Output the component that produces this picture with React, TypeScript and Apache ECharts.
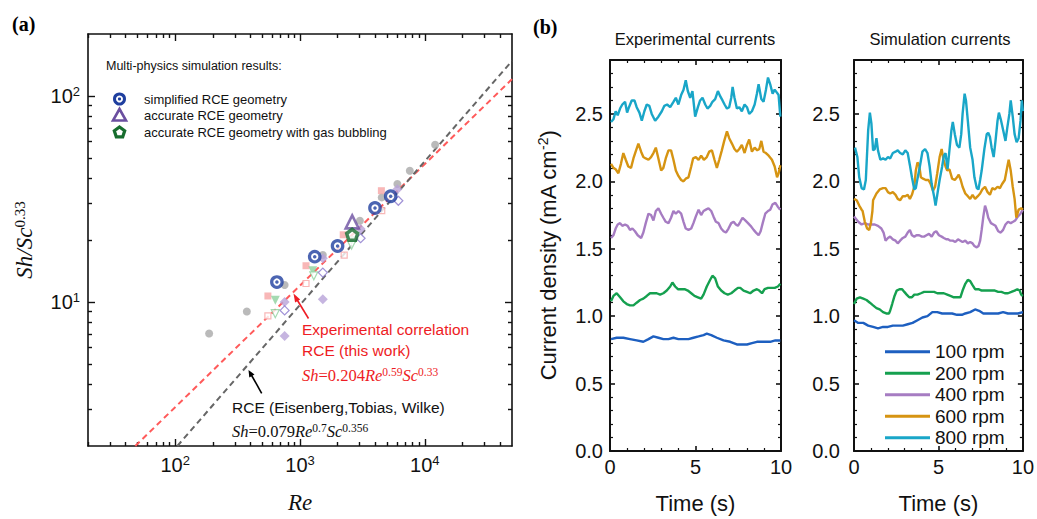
import React, { useEffect, useRef } from 'react';
import * as echarts from 'echarts';

const SANS = 'Liberation Sans';
const SERIF = 'Liberation Serif';

// ---------- Panel (a) data ----------
const reMajorTicks = [100, 1000, 10000];
const reMinorTicks = [20, 30, 40, 50, 60, 70, 80, 90, 200, 300, 400, 500, 600, 700, 800, 900, 2000, 3000, 4000, 5000, 6000, 7000, 8000, 9000, 20000, 30000, 40000];
const shMajorTicks = [10, 100];
const shMinorTicks = [3, 4, 5, 6, 7, 8, 9, 20, 30, 40, 50, 60, 70, 80, 90];

const simplifiedRCE = [[653, 12.5], [1312, 16.6], [2000, 18.7], [3990, 28.6], [5330, 32.6]];
const accurateRCE = [[2620, 24.5]];
const gasBubbling = [[2620, 21.2]];
const grayPts = [[187, 7.03], [375, 9.0], [753, 12.1], [1524, 16.9], [3020, 24.8], [4520, 32.2], [6030, 37.4], [7590, 43.4], [12100, 58]];
const pinkFilled = [[553, 10.7], [1117, 15.0], [2220, 21.2], [4490, 34.7]];
const pinkOpen = [[553, 8.56], [1117, 12.3], [2260, 16.9], [4520, 27.8]];
const greenFilled = [[634, 10.2], [1265, 14.2], [2590, 19.9]];
const greenOpen = [[634, 8.78], [1290, 13.4], [2590, 18.9]];
const purpleFilled = [[753, 10.0], [1524, 10.3], [753, 6.84], [1524, 16.3], [3060, 22.6], [6030, 35.3]];
const purpleOpen = [[753, 9.1], [1524, 13.9], [3060, 20.4], [6140, 31.0]];
const expCorrelationLine = [[47.9, 2], [50000, 120.8]];
const eisenbergLine = [[104, 2], [50000, 148]];

// ---------- Panel (b) data ----------
const rpmNames = ['100 rpm', '200 rpm', '400 rpm', '600 rpm', '800 rpm'];
const rpmColors = ['#1d5fc0', '#15a04f', '#a67cc2', '#d69412', '#19a6c8'];

const exp100 = [[0.06,0.83],[0.39,0.84],[0.78,0.84],[1.17,0.83],[1.56,0.82],[1.95,0.81],[2.25,0.83],[2.54,0.85],[2.83,0.84],[3.12,0.83],[3.42,0.83],[3.71,0.84],[4.0,0.83],[4.3,0.83],[4.59,0.83],[4.88,0.84],[5.18,0.85],[5.47,0.86],[5.66,0.87],[5.92,0.86],[6.25,0.84],[6.64,0.82],[7.03,0.81],[7.42,0.79],[7.71,0.79],[8.01,0.79],[8.3,0.8],[8.59,0.81],[8.98,0.81],[9.37,0.81],[9.67,0.82],[9.96,0.82]];
const exp200 = [[0.06,1.11],[0.2,1.15],[0.39,1.17],[0.59,1.14],[0.78,1.11],[0.98,1.09],[1.17,1.08],[1.37,1.08],[1.56,1.1],[1.76,1.12],[1.95,1.13],[2.15,1.15],[2.34,1.17],[2.54,1.17],[2.73,1.17],[2.93,1.16],[3.12,1.17],[3.32,1.19],[3.52,1.22],[3.65,1.25],[3.81,1.22],[3.97,1.2],[4.16,1.2],[4.36,1.2],[4.55,1.19],[4.75,1.17],[4.94,1.15],[5.14,1.14],[5.33,1.13],[5.47,1.16],[5.66,1.22],[5.86,1.27],[5.99,1.3],[6.15,1.28],[6.31,1.22],[6.5,1.19],[6.7,1.17],[6.89,1.16],[7.09,1.17],[7.28,1.19],[7.48,1.21],[7.62,1.21],[7.81,1.19],[8.01,1.18],[8.2,1.17],[8.4,1.19],[8.59,1.2],[8.73,1.19],[8.89,1.17],[9.04,1.2],[9.24,1.21],[9.43,1.21],[9.63,1.21],[9.82,1.22],[9.96,1.24]];
const exp400 = [[0.06,1.58],[0.2,1.6],[0.33,1.65],[0.45,1.68],[0.59,1.69],[0.72,1.67],[0.88,1.68],[1.03,1.67],[1.17,1.64],[1.31,1.65],[1.46,1.63],[1.62,1.6],[1.82,1.58],[1.95,1.62],[2.09,1.69],[2.25,1.76],[2.4,1.75],[2.54,1.71],[2.68,1.78],[2.83,1.8],[2.99,1.76],[3.12,1.73],[3.26,1.7],[3.42,1.69],[3.57,1.73],[3.71,1.78],[3.85,1.76],[4.0,1.78],[4.16,1.76],[4.3,1.7],[4.43,1.65],[4.59,1.64],[4.75,1.65],[4.88,1.69],[5.02,1.74],[5.18,1.79],[5.33,1.75],[5.47,1.78],[5.61,1.79],[5.76,1.8],[5.92,1.78],[6.05,1.74],[6.19,1.7],[6.35,1.69],[6.5,1.65],[6.64,1.63],[6.78,1.62],[6.93,1.65],[7.09,1.69],[7.23,1.7],[7.36,1.68],[7.48,1.67],[7.62,1.7],[7.75,1.73],[7.91,1.71],[8.07,1.69],[8.22,1.67],[8.4,1.64],[8.54,1.62],[8.69,1.6],[8.81,1.63],[8.93,1.69],[9.08,1.76],[9.24,1.78],[9.37,1.79],[9.51,1.83],[9.67,1.84],[9.82,1.81],[9.96,1.79]];
const exp600 = [[0.06,2.13],[0.2,2.1],[0.33,2.09],[0.49,2.06],[0.64,2.13],[0.78,2.21],[0.92,2.16],[1.07,2.11],[1.23,2.1],[1.37,2.17],[1.5,2.22],[1.66,2.28],[1.82,2.22],[1.95,2.18],[2.09,2.17],[2.25,2.16],[2.4,2.18],[2.54,2.21],[2.68,2.25],[2.83,2.17],[2.99,2.08],[3.12,2.1],[3.26,2.17],[3.42,2.23],[3.57,2.23],[3.71,2.16],[3.85,2.08],[4.0,2.04],[4.16,2.01],[4.3,2.0],[4.43,2.02],[4.59,2.03],[4.75,2.11],[4.86,2.17],[5.02,2.18],[5.18,2.16],[5.33,2.19],[5.49,2.16],[5.66,2.18],[5.8,2.22],[5.96,2.23],[6.11,2.16],[6.25,2.1],[6.39,2.16],[6.54,2.23],[6.68,2.3],[6.84,2.37],[6.97,2.32],[7.13,2.28],[7.28,2.24],[7.42,2.22],[7.56,2.24],[7.71,2.27],[7.87,2.21],[8.01,2.27],[8.14,2.31],[8.3,2.22],[8.46,2.25],[8.61,2.23],[8.73,2.24],[8.85,2.3],[8.98,2.22],[9.12,2.21],[9.28,2.19],[9.47,2.16],[9.63,2.11],[9.77,2.03],[9.86,2.06],[9.96,2.12]];
const exp800 = [[0.06,2.44],[0.2,2.46],[0.33,2.52],[0.45,2.49],[0.59,2.54],[0.72,2.57],[0.88,2.59],[1.0,2.51],[1.11,2.55],[1.27,2.6],[1.43,2.6],[1.56,2.55],[1.72,2.51],[1.86,2.45],[2.01,2.52],[2.15,2.57],[2.3,2.56],[2.44,2.5],[2.64,2.45],[2.83,2.48],[3.03,2.52],[3.18,2.56],[3.34,2.57],[3.52,2.55],[3.71,2.59],[3.85,2.62],[4.0,2.57],[4.16,2.64],[4.3,2.68],[4.43,2.75],[4.55,2.67],[4.69,2.62],[4.82,2.67],[4.98,2.48],[5.14,2.55],[5.27,2.6],[5.41,2.62],[5.57,2.57],[5.7,2.54],[5.86,2.56],[5.99,2.59],[6.15,2.61],[6.31,2.67],[6.45,2.63],[6.58,2.6],[6.7,2.57],[6.84,2.54],[6.97,2.55],[7.09,2.62],[7.17,2.7],[7.28,2.62],[7.42,2.54],[7.56,2.55],[7.71,2.52],[7.87,2.57],[8.01,2.55],[8.14,2.5],[8.3,2.52],[8.46,2.57],[8.59,2.65],[8.69,2.72],[8.85,2.61],[8.98,2.59],[9.12,2.68],[9.24,2.77],[9.37,2.72],[9.51,2.65],[9.63,2.68],[9.75,2.66],[9.86,2.64],[9.96,2.48]];

const sim100 = [[0.0,0.97],[0.25,0.95],[0.55,0.95],[0.84,0.93],[1.13,0.92],[1.42,0.91],[1.72,0.92],[2.01,0.92],[2.3,0.93],[2.59,0.93],[2.89,0.93],[3.18,0.94],[3.47,0.95],[3.76,0.97],[4.05,0.99],[4.35,1.0],[4.64,1.03],[4.93,1.03],[5.22,1.02],[5.52,1.02],[5.81,1.02],[6.1,1.01],[6.39,1.01],[6.59,1.02],[6.88,1.03],[7.17,1.05],[7.41,1.04],[7.66,1.02],[7.95,1.02],[8.25,1.02],[8.54,1.02],[8.83,1.03],[9.12,1.02],[9.42,1.02],[9.71,1.02],[10.0,1.03]];
const sim200 = [[0.0,1.09],[0.16,1.13],[0.35,1.14],[0.55,1.13],[0.74,1.12],[0.94,1.1],[1.13,1.08],[1.33,1.06],[1.52,1.05],[1.72,1.03],[1.91,1.02],[2.07,1.02],[2.14,1.04],[2.26,1.09],[2.4,1.15],[2.53,1.19],[2.69,1.2],[2.85,1.2],[2.98,1.18],[3.12,1.16],[3.27,1.14],[3.43,1.14],[3.57,1.16],[3.76,1.16],[3.96,1.17],[4.15,1.18],[4.35,1.18],[4.54,1.18],[4.74,1.18],[4.93,1.17],[5.13,1.17],[5.32,1.17],[5.52,1.16],[5.71,1.15],[5.91,1.14],[6.1,1.14],[6.3,1.14],[6.43,1.19],[6.59,1.24],[6.74,1.27],[6.88,1.26],[7.02,1.23],[7.17,1.2],[7.37,1.2],[7.56,1.19],[7.76,1.19],[7.95,1.19],[8.15,1.19],[8.34,1.19],[8.54,1.18],[8.73,1.18],[8.93,1.17],[9.12,1.17],[9.32,1.18],[9.51,1.19],[9.67,1.2],[9.81,1.19],[9.9,1.16],[10.0,1.15]];
const sim400 = [[0.0,1.74],[0.25,1.7],[0.45,1.68],[0.64,1.69],[0.84,1.68],[1.03,1.68],[1.23,1.68],[1.42,1.67],[1.62,1.65],[1.75,1.62],[1.87,1.56],[2.01,1.58],[2.14,1.59],[2.3,1.57],[2.46,1.56],[2.59,1.54],[2.73,1.56],[2.89,1.58],[3.04,1.59],[3.18,1.62],[3.31,1.64],[3.43,1.6],[3.57,1.59],[3.7,1.6],[3.86,1.6],[4.02,1.59],[4.15,1.59],[4.29,1.6],[4.44,1.61],[4.6,1.59],[4.74,1.62],[4.87,1.63],[5.03,1.6],[5.19,1.59],[5.32,1.58],[5.46,1.57],[5.57,1.57],[5.71,1.56],[5.85,1.56],[6.0,1.55],[6.16,1.57],[6.3,1.56],[6.43,1.55],[6.59,1.56],[6.74,1.54],[6.88,1.55],[7.02,1.54],[7.13,1.52],[7.27,1.51],[7.37,1.52],[7.47,1.56],[7.56,1.64],[7.66,1.74],[7.76,1.82],[7.86,1.78],[7.95,1.73],[8.11,1.69],[8.25,1.68],[8.38,1.67],[8.54,1.63],[8.69,1.62],[8.83,1.64],[8.97,1.68],[9.12,1.7],[9.28,1.69],[9.42,1.7],[9.55,1.71],[9.71,1.74],[9.86,1.76],[10.0,1.79]];
const sim600 = [[0.0,1.87],[0.16,1.86],[0.31,1.82],[0.45,1.79],[0.51,1.78],[0.64,1.7],[0.78,1.65],[0.9,1.64],[1.0,1.69],[1.09,1.78],[1.13,1.86],[1.33,1.91],[1.52,1.94],[1.72,1.95],[1.87,1.95],[2.01,1.92],[2.14,1.91],[2.3,1.92],[2.46,1.9],[2.59,1.87],[2.73,1.86],[2.89,1.89],[3.04,1.89],[3.18,1.9],[3.31,1.87],[3.43,1.9],[3.57,1.96],[3.66,2.08],[3.76,2.14],[3.86,2.12],[3.96,2.03],[4.09,2.02],[4.25,2.01],[4.41,2.01],[4.54,1.98],[4.68,1.93],[4.8,1.96],[4.93,2.06],[5.07,2.18],[5.19,2.24],[5.3,2.16],[5.42,2.11],[5.52,2.08],[5.65,2.09],[5.81,2.02],[5.97,2.01],[6.1,2.03],[6.2,2.05],[6.32,2.01],[6.43,1.96],[6.59,1.91],[6.74,1.89],[6.88,1.87],[7.02,1.9],[7.17,1.87],[7.33,1.89],[7.47,1.91],[7.6,1.94],[7.76,1.96],[7.91,1.92],[8.05,1.9],[8.19,1.95],[8.34,1.94],[8.5,1.96],[8.64,1.95],[8.77,1.98],[8.93,2.01],[9.08,2.11],[9.16,2.16],[9.28,2.08],[9.4,1.96],[9.51,1.87],[9.61,1.73],[9.75,1.79],[9.9,1.8],[10.0,1.79]];
const sim800 = [[0.06,2.25],[0.2,2.18],[0.31,2.03],[0.45,1.95],[0.59,1.94],[0.7,2.01],[0.84,2.38],[0.94,2.51],[1.03,2.43],[1.13,2.23],[1.23,2.24],[1.33,2.32],[1.42,2.23],[1.56,2.16],[1.72,2.17],[1.87,2.16],[2.01,2.18],[2.14,2.17],[2.3,2.21],[2.46,2.22],[2.59,2.23],[2.73,2.21],[2.89,2.2],[3.04,2.23],[3.18,2.21],[3.31,2.12],[3.43,2.03],[3.57,1.94],[3.66,1.95],[3.76,2.02],[3.9,2.11],[4.05,2.22],[4.21,2.24],[4.35,2.21],[4.48,2.11],[4.6,1.98],[4.74,1.89],[4.83,1.82],[4.93,1.9],[5.07,2.01],[5.22,2.11],[5.32,2.19],[5.42,2.21],[5.54,2.09],[5.65,2.23],[5.77,2.38],[5.85,2.44],[5.97,2.35],[6.1,2.27],[6.24,2.25],[6.35,2.35],[6.43,2.5],[6.55,2.65],[6.63,2.6],[6.74,2.45],[6.88,2.25],[7.02,2.16],[7.13,2.03],[7.27,1.95],[7.37,1.94],[7.47,2.01],[7.56,2.08],[7.72,2.24],[7.86,2.35],[7.95,2.36],[8.05,2.33],[8.15,2.25],[8.27,2.18],[8.38,2.3],[8.5,2.45],[8.58,2.51],[8.69,2.46],[8.83,2.38],[8.97,2.3],[9.08,2.4],[9.2,2.5],[9.28,2.6],[9.4,2.48],[9.51,2.35],[9.63,2.29],[9.75,2.32],[9.86,2.45],[9.94,2.6],[10.0,2.52]];

const expSeries = [exp100, exp200, exp400, exp600, exp800];
const simSeries = [sim100, sim200, sim400, sim600, sim800];

const AX = '#111';

const supLabel = (v: number) => `{b|10}{s|${Math.round(Math.log10(v))}}`;
const supRich = {
  b: { fontSize: 20, fontFamily: SANS, color: AX, lineHeight: 22 },
  s: { fontSize: 13, fontFamily: SANS, color: AX, lineHeight: 13, verticalAlign: 'top' },
};

function logX(pos: string, ticks: number[], len: number, label: boolean, line: boolean) {
  return {
    type: 'log', logBase: 10, gridIndex: 0, position: pos, min: 20, max: 50000,
    axisLine: { show: line, onZero: false, lineStyle: { color: AX, width: 1.6 } },
    axisTick: { show: true, inside: true, length: len, customValues: ticks, lineStyle: { color: AX, width: 1.4 } },
    axisLabel: label ? { show: true, customValues: ticks, margin: 8, formatter: supLabel, rich: supRich } : { show: false },
    splitLine: { show: false },
    ...(label && pos === 'bottom' ? {
      name: 'Re', nameLocation: 'middle', nameGap: 45,
      nameTextStyle: { fontFamily: SERIF, fontStyle: 'italic', fontSize: 23, color: AX },
    } : {}),
  };
}
function logY(pos: string, ticks: number[], len: number, label: boolean, line: boolean) {
  return {
    type: 'log', logBase: 10, gridIndex: 0, position: pos, min: 2, max: 200,
    axisLine: { show: line, onZero: false, lineStyle: { color: AX, width: 1.6 } },
    axisTick: { show: true, inside: true, length: len, customValues: ticks, lineStyle: { color: AX, width: 1.4 } },
    axisLabel: label ? { show: true, customValues: ticks, margin: 8, formatter: supLabel, rich: supRich } : { show: false },
    splitLine: { show: false },
    ...(label && pos === 'left' ? {
      name: '{i|Sh/Sc}{s|0.33}', nameLocation: 'middle', nameGap: 52, nameRotate: 90,
      nameTextStyle: {
        color: AX,
        rich: {
          i: { fontFamily: SERIF, fontStyle: 'italic', fontSize: 23, color: AX, lineHeight: 24 },
          s: { fontFamily: SERIF, fontSize: 15, color: AX, lineHeight: 15, verticalAlign: 'top' },
        },
      },
    } : {}),
  };
}
function timeAxis(grid: number, pos: string, label: boolean) {
  return {
    type: 'value', gridIndex: grid, position: pos, min: 0, max: 10, interval: 5,
    axisLine: { show: true, onZero: false, lineStyle: { color: AX, width: 2 } },
    axisTick: { show: true, inside: true, length: 5, lineStyle: { color: AX, width: 1.6 } },
    minorTick: { show: true, splitNumber: 5, length: 3, lineStyle: { color: AX, width: 1.2 } },
    axisLabel: { show: label, margin: 6, fontSize: 20, fontFamily: SANS, color: AX },
    splitLine: { show: false }, minorSplitLine: { show: false },
    ...(label ? {
      name: 'Time (s)', nameLocation: 'middle', nameGap: 41,
      nameTextStyle: { fontFamily: SANS, fontSize: 22, color: AX },
    } : {}),
  };
}
function currentAxis(grid: number, pos: string, label: boolean, margin: number, withName: boolean) {
  return {
    type: 'value', gridIndex: grid, position: pos, min: 0, max: 2.9, interval: 0.5,
    axisLine: { show: true, onZero: false, lineStyle: { color: AX, width: 2 } },
    axisTick: { show: true, inside: true, length: 5, lineStyle: { color: AX, width: 1.6 } },
    minorTick: { show: true, splitNumber: 5, length: 3, lineStyle: { color: AX, width: 1.2 } },
    axisLabel: {
      show: label, margin, fontSize: 20, fontFamily: SANS, color: AX,
      formatter: (v: number) => (Math.abs(v * 2 - Math.round(v * 2)) < 1e-6 ? v.toFixed(1) : ''),
    },
    splitLine: { show: false }, minorSplitLine: { show: false },
    ...(withName ? {
      name: 'Current density (mA cm{s|-2})', nameLocation: 'middle', nameGap: 50, nameRotate: 90,
      nameTextStyle: {
        fontFamily: SANS, fontSize: 22, color: AX, lineHeight: 24,
        rich: { s: { fontFamily: SANS, fontSize: 14, color: AX, lineHeight: 14, verticalAlign: 'top' } },
      },
    } : {}),
  };
}

const scatter = (name: string, data: number[][], symbol: string, size: number, itemStyle: any, z: number, rotate = 0) => ({
  type: 'scatter', name, data, symbol, symbolSize: size, symbolRotate: rotate,
  xAxisIndex: 0, yAxisIndex: 0, itemStyle, z, silent: true,
});

const PENTAGON = 'path://M0,-10L9.51,-3.09L5.88,8.09L-5.88,8.09L-9.51,-3.09Z';
const BLUE = '#1f3f9f';
const TRI = '#6b4fa0';
const DKGREEN = '#176d2e';
const RED = '#ee1c24';

function buildOption() {
  const series: any[] = [
    { type: 'line', name: 'exp-corr', data: expCorrelationLine, xAxisIndex: 0, yAxisIndex: 0, showSymbol: false, symbol: 'none', lineStyle: { color: '#ff5a5a', width: 2, type: [6, 4] }, z: 1, silent: true },
    { type: 'line', name: 'etw', data: eisenbergLine, xAxisIndex: 0, yAxisIndex: 0, showSymbol: false, symbol: 'none', lineStyle: { color: '#666', width: 2, type: [6, 4] }, z: 1, silent: true },
    scatter('gray', grayPts, 'circle', 8, { color: '#a9a9a9' }, 2),
    scatter('pinkF', pinkFilled, 'rect', 7, { color: '#f6a5a5' }, 2),
    scatter('pinkO', pinkOpen, 'rect', 6, { color: '#fff', borderColor: '#f6a5a5', borderWidth: 1.2 }, 2),
    scatter('greenF', greenFilled, 'triangle', 9, { color: '#8fd19e' }, 2, 180),
    scatter('greenO', greenOpen, 'triangle', 8, { color: '#fff', borderColor: '#8fd19e', borderWidth: 1.2 }, 2, 180),
    scatter('purpleF', purpleFilled, 'diamond', 10, { color: '#b8a2d8' }, 2),
    scatter('purpleO', purpleOpen, 'diamond', 9, { color: '#fff', borderColor: '#8877cc', borderWidth: 1.2 }, 2),
    scatter('simplified', simplifiedRCE, 'circle', 10.5, { color: '#fff', borderColor: BLUE, borderWidth: 3.2 }, 4),
    scatter('simplifiedDot', simplifiedRCE, 'circle', 3.5, { color: BLUE }, 5),
    scatter('accurate', accurateRCE, 'triangle', 13, { color: '#fff', borderColor: TRI, borderWidth: 2.6 }, 4),
    scatter('bubbling', gasBubbling, PENTAGON, 11, { color: '#fff', borderColor: DKGREEN, borderWidth: 3.5 }, 4),
  ];
  rpmNames.forEach((n, i) => {
    series.push({ type: 'line', name: n, data: expSeries[i], xAxisIndex: 4, yAxisIndex: 4, showSymbol: false, symbol: 'none', color: rpmColors[i], lineStyle: { color: rpmColors[i], width: 2.4 }, silent: true });
    series.push({ type: 'line', name: n, data: simSeries[i], xAxisIndex: 6, yAxisIndex: 6, showSymbol: false, symbol: 'none', color: rpmColors[i], lineStyle: { color: rpmColors[i], width: 2.4 }, silent: true });
  });

  const formulaRich = (color: string) => ({
    i: { fontFamily: SERIF, fontStyle: 'italic', fontSize: 16.5, fill: color, lineHeight: 18 },
    n: { fontFamily: SERIF, fontSize: 16.5, fill: color, lineHeight: 18 },
    s: { fontFamily: SERIF, fontSize: 11.5, fill: color, lineHeight: 11, verticalAlign: 'top' },
  });

  const txt = (x: number, y: number, text: string, size: number, fill: string, extra: any = {}) => ({
    type: 'text', x, y, silent: true,
    style: { text, fontSize: size, fontFamily: SANS, fill, align: 'left', verticalAlign: 'middle', ...extra },
  });

  const graphic: any[] = [
    txt(12, 24, '(a)', 20, '#000', { fontFamily: SERIF, fontWeight: 'bold' }),
    txt(533, 27, '(b)', 20, '#000', { fontFamily: SERIF, fontWeight: 'bold' }),
    txt(695, 39, 'Experimental currents', 16.5, AX, { align: 'center' }),
    txt(940, 39, 'Simulation currents', 16.5, AX, { align: 'center' }),
    txt(106, 66, 'Multi-physics simulation results:', 12.5, AX),
    { type: 'circle', silent: true, shape: { cx: 119.5, cy: 99, r: 5 }, style: { fill: '#fff', stroke: BLUE, lineWidth: 3 } },
    { type: 'circle', silent: true, shape: { cx: 119.5, cy: 99, r: 1.6 }, style: { fill: BLUE } },
    { type: 'polygon', silent: true, shape: { points: [[119.5, 109], [126, 120.5], [113, 120.5]] }, style: { fill: '#fff', stroke: TRI, lineWidth: 2.6 } },
    { type: 'polygon', silent: true, shape: { points: [[119.5, 127], [124.7, 130.8], [122.7, 136.9], [116.3, 136.9], [114.3, 130.8]] }, style: { fill: '#fff', stroke: DKGREEN, lineWidth: 3.2 } },
    txt(144, 99, 'simplified RCE geometry', 13, AX),
    txt(144, 115.5, 'accurate RCE geometry', 13, AX),
    txt(144, 132.5, 'accurate RCE geometry with gas bubbling', 13, AX),
    txt(302, 329, 'Experimental correlation', 15.5, RED),
    txt(302, 350, 'RCE (this work)', 15.5, RED),
    { type: 'text', x: 302, y: 375, silent: true, style: { text: '{i|Sh}{n|=0.204}{i|Re}{s|0.59}{i|Sc}{s|0.33}', rich: formulaRich(RED), fill: RED, align: 'left', verticalAlign: 'middle' } },
    txt(232, 407, 'RCE (Eisenberg,Tobias, Wilke)', 15.5, AX),
    { type: 'text', x: 232, y: 431, silent: true, style: { text: '{i|Sh}{n|=0.079}{i|Re}{s|0.7}{i|Sc}{s|0.356}', rich: formulaRich(AX), fill: AX, align: 'left', verticalAlign: 'middle' } },
    { type: 'line', silent: true, shape: { x1: 308.5, y1: 318.5, x2: 296, y2: 298 }, style: { stroke: RED, lineWidth: 1.6 } },
    { type: 'polygon', silent: true, shape: { points: [[293.5, 293.5], [300.2, 299.4], [295.1, 302.6]] }, style: { fill: RED } },
    { type: 'line', silent: true, shape: { x1: 261.7, y1: 393.3, x2: 250.5, y2: 373.5 }, style: { stroke: '#000', lineWidth: 1.6 } },
    { type: 'polygon', silent: true, shape: { points: [[248.5, 370], [254.5, 374.6], [249.3, 377.6]] }, style: { fill: '#000' } },
  ];

  return {
    animation: false,
    backgroundColor: '#fff',
    grid: [
      { left: 88, top: 34, width: 424, height: 415 },
      { left: 610, top: 60, width: 171, height: 392.7 },
      { left: 854, top: 60, width: 171, height: 392.7 },
    ],
    xAxis: [
      logX('bottom', reMajorTicks, 7, true, true),
      logX('bottom', reMinorTicks, 4, false, false),
      logX('top', reMajorTicks, 7, false, true),
      logX('top', reMinorTicks, 4, false, false),
      timeAxis(1, 'bottom', true),
      timeAxis(1, 'top', false),
      timeAxis(2, 'bottom', true),
      timeAxis(2, 'top', false),
    ],
    yAxis: [
      logY('left', shMajorTicks, 7, true, true),
      logY('left', shMinorTicks, 4, false, false),
      logY('right', shMajorTicks, 7, false, true),
      logY('right', shMinorTicks, 4, false, false),
      currentAxis(1, 'left', true, 7, true),
      currentAxis(1, 'right', false, 7, false),
      currentAxis(2, 'left', true, 14, false),
      currentAxis(2, 'right', false, 7, false),
    ],
    legend: {
      data: rpmNames, orient: 'vertical', left: 880, top: 336, itemGap: 0,
      itemWidth: 45, itemHeight: 3, icon: 'rect', selectedMode: false,
      textStyle: { fontFamily: SANS, fontSize: 19, color: AX, lineHeight: 21.5 },
    },
    series,
    graphic,
  };
}

export default function App() {
  const ref = useRef<HTMLDivElement>(null);
  useEffect(() => {
    const chart = echarts.init(ref.current!, null, { renderer: 'svg' });
    chart.setOption(buildOption() as any);
    return () => chart.dispose();
  }, []);
  return <div ref={ref} style={{ position: 'absolute', left: 0, top: 0, width: 1037, height: 519 }} />;
}
